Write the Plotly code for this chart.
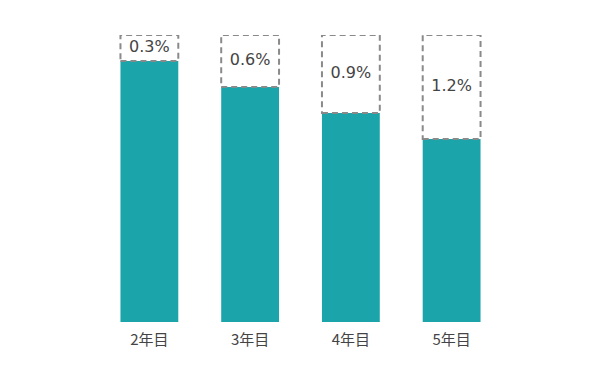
import plotly.graph_objects as go

categories = ["2年目", "3年目", "4年目", "5年目"]
loss_pct = [0.3, 0.6, 0.9, 1.2]
labels = ["0.3%", "0.6%", "0.9%", "1.2%"]

full = 100.0
retained = [full - v for v in loss_pct]
idx = list(range(len(categories)))

teal = "#1ba5aa"
dash_col = "#8a8a8a"
half = 0.287

fig = go.Figure()
fig.add_trace(go.Bar(
    x=idx, y=retained, marker=dict(color=teal, line=dict(width=0)),
    width=2 * half, hoverinfo="skip", showlegend=False,
))

shapes = []
for i, r in zip(idx, retained):
    shapes.append(dict(type="rect", xref="x", yref="y",
                       x0=i - half, x1=i + half, y0=r, y1=full,
                       line=dict(color=dash_col, width=2, dash="6px,4px"),
                       fillcolor="rgba(0,0,0,0)", layer="above"))

fig.add_trace(go.Scatter(
    x=idx, y=[(r + full) / 2 for r in retained], mode="text",
    text=labels, textfont=dict(family="DejaVu Sans", size=16, color="#444444"),
    hoverinfo="skip", showlegend=False, cliponaxis=False,
))

fig.update_layout(
    width=600, height=386,
    margin=dict(l=98.5, r=97.5, t=35, b=64),
    paper_bgcolor="white", plot_bgcolor="white",
    shapes=shapes,
    xaxis=dict(tickmode="array", tickvals=idx, ticktext=categories,
               range=[-0.5, len(categories) - 0.5], showgrid=False,
               zeroline=False, showline=False, ticks="outside", ticklen=4,
               tickcolor="rgba(0,0,0,0)",
               tickfont=dict(family="Noto Sans CJK JP", size=15, color="#444444")),
    yaxis=dict(range=[full - 3.31, full], visible=False, showgrid=False, zeroline=False),
)

fig.write_html("out.html", post_script="document.body.style.margin='0';",
               config={"displayModeBar": False})
